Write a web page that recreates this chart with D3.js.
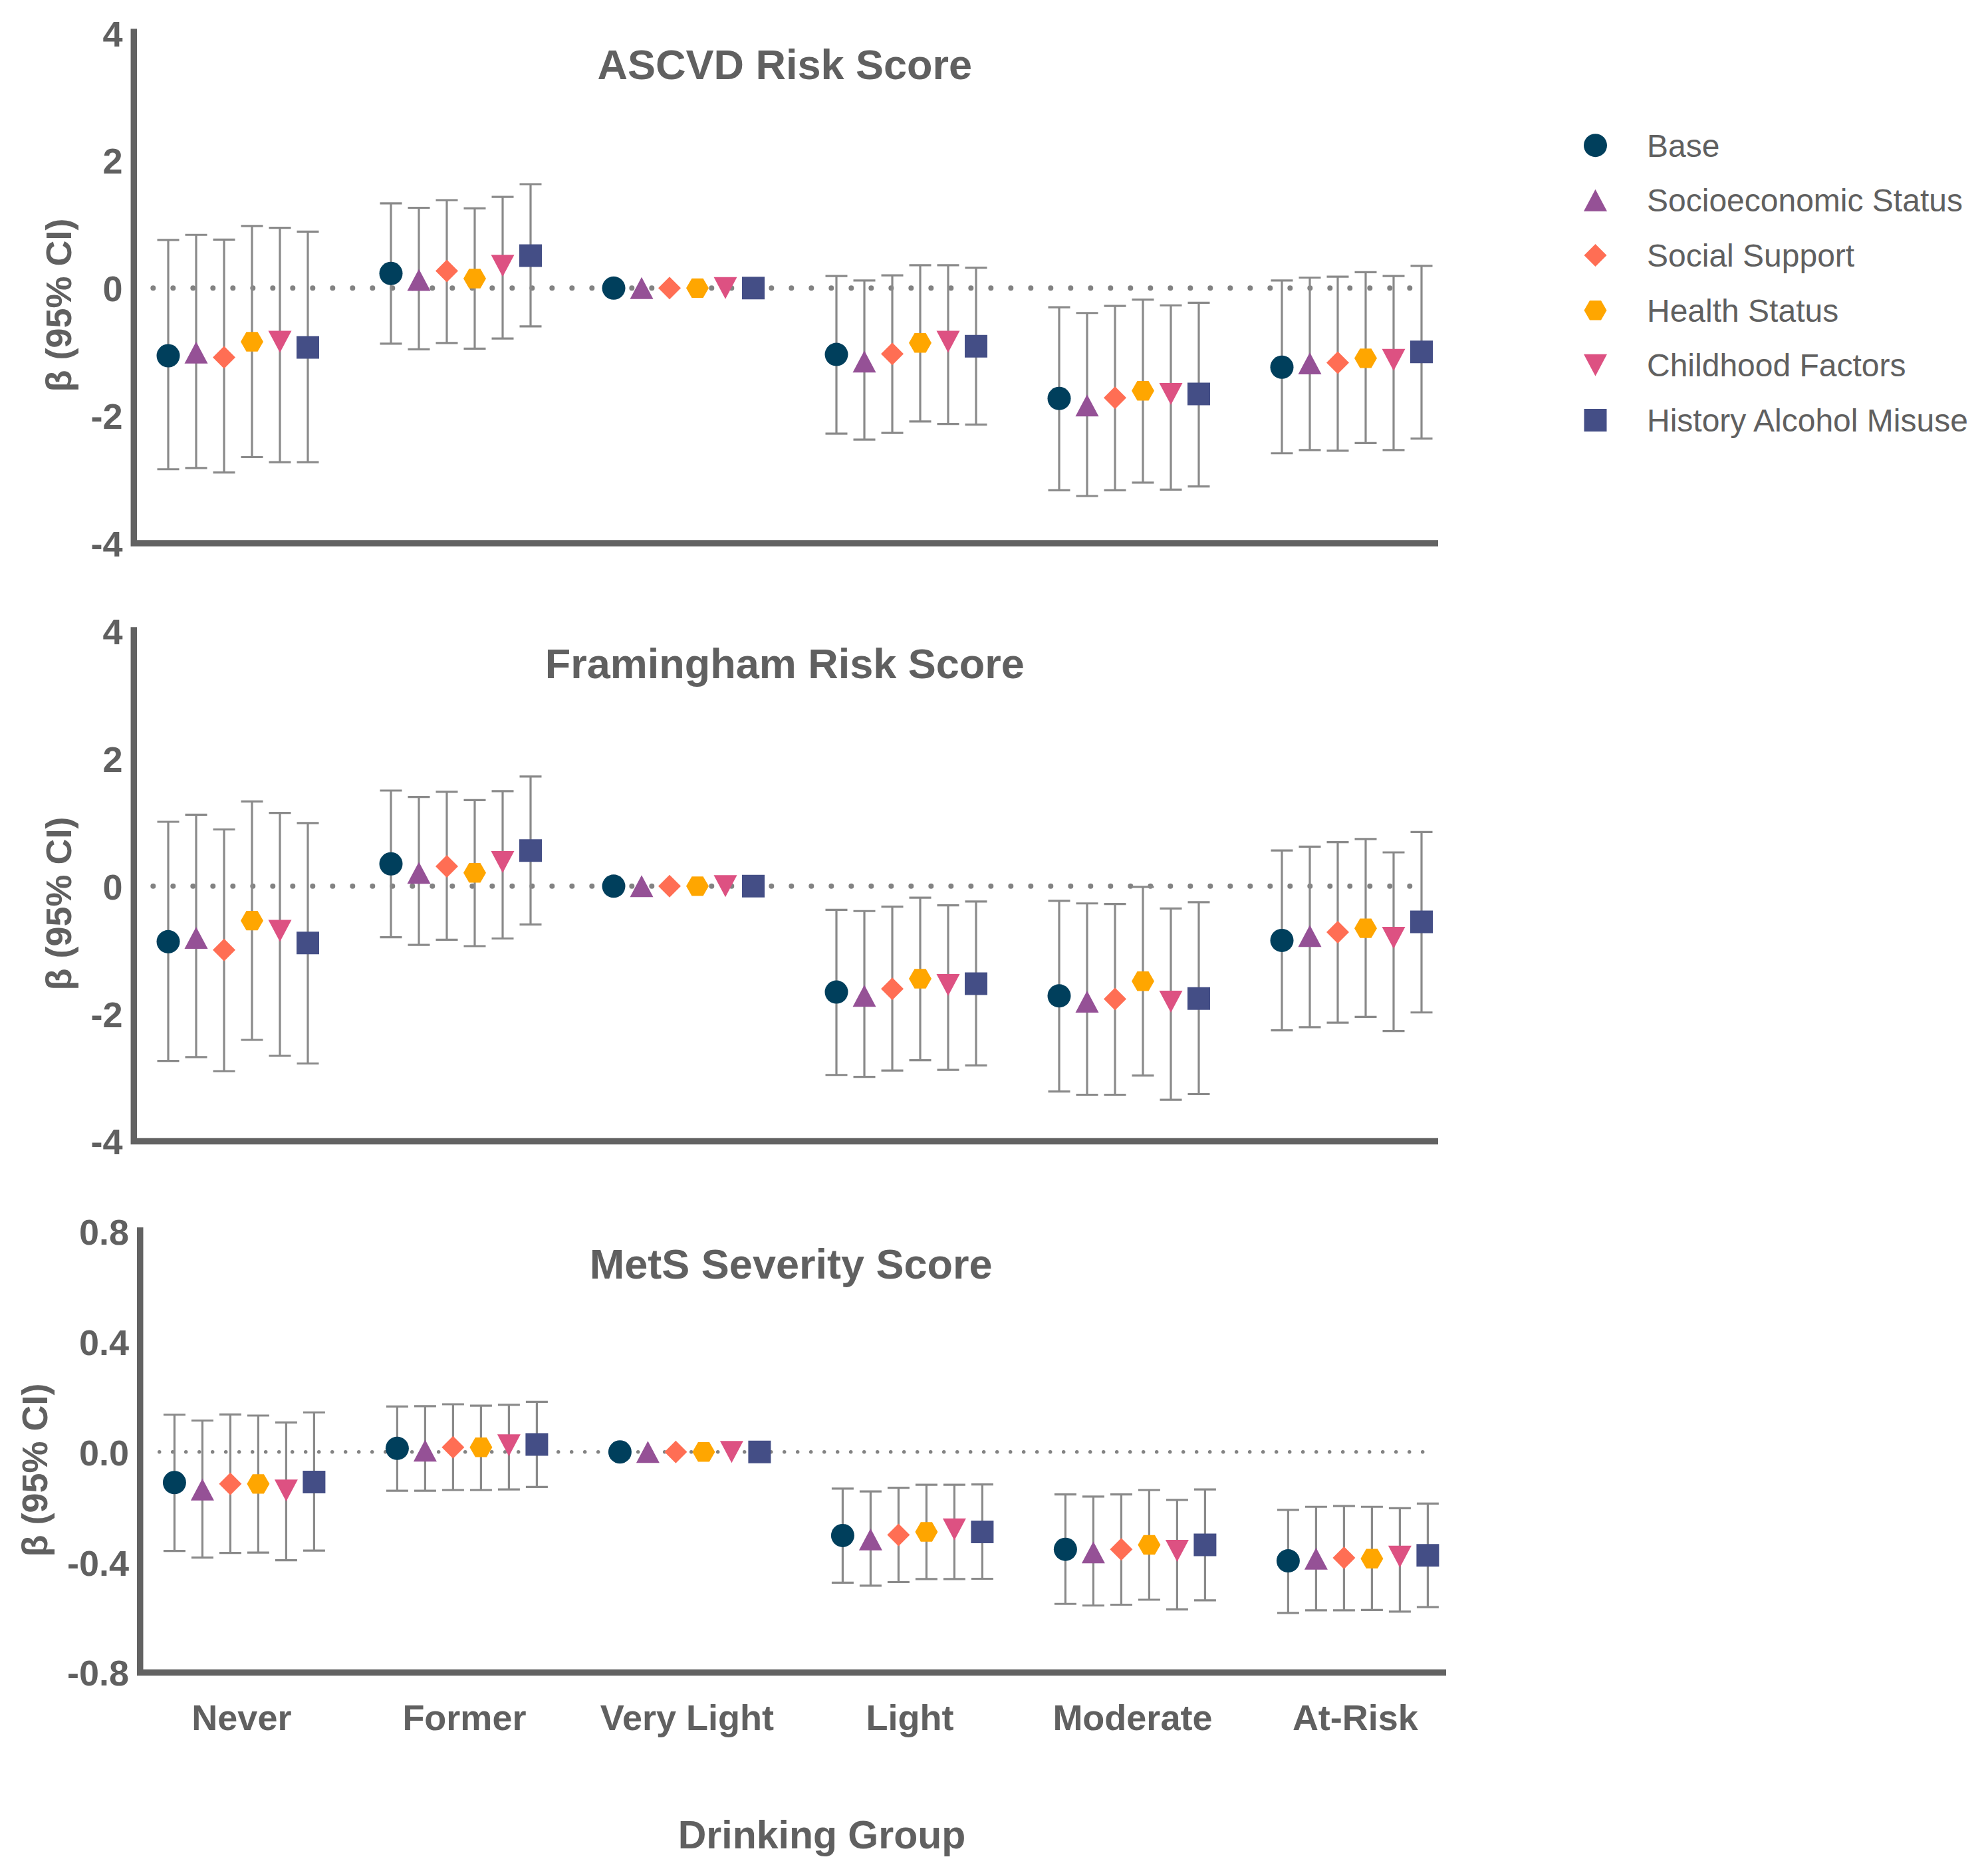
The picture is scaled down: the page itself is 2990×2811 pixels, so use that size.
<!DOCTYPE html>
<html>
<head>
<meta charset="utf-8">
<script src="https://cdn.jsdelivr.net/npm/d3@7"></script>
<style>
  html, body { margin: 0; padding: 0; background: #ffffff; }
  svg { display: block; }
</style>
</head>
<body>
<svg id="chart" width="2990" height="2811"></svg>
<script>
// ---------------- DATA ----------------
const categories = ["Never", "Former", "Very Light", "Light", "Moderate", "At-Risk"];
const seriesNames = ["Base", "Socioeconomic Status", "Social Support", "Health Status", "Childhood Factors", "History Alcohol Misuse"];
const seriesColors = ["#003f5c", "#955196", "#ff6e54", "#ffa600", "#dd5182", "#444e86"];
const seriesShapes = ["circle", "triangleUp", "diamond", "hexagon", "triangleDown", "square"];
const panelTitles = ["ASCVD Risk Score", "Framingham Risk Score", "MetS Severity Score"];
const xAxisTitle = "Drinking Group";
const yAxisTitle = "β (95% CI)";

const riskTicks = [-4, -2, 0, 2, 4];
const riskTickLabels = ["-4", "-2", "0", "2", "4"];
const metsTicks = [-0.8, -0.4, 0, 0.4, 0.8];
const metsTickLabels = ["-0.8", "-0.4", "0.0", "0.4", "0.8"];

// rows = series (same order as seriesNames), columns = categories
const ascvdEst = [
  [-1.06, 0.23, 0, -1.04, -1.73, -1.24],
  [-1.01, 0.13, 0, -1.15, -1.84, -1.18],
  [-1.085, 0.27, 0, -1.03, -1.72, -1.17],
  [-0.84, 0.15, 0, -0.86, -1.61, -1.10],
  [-0.84, 0.35, 0, -0.84, -1.66, -1.125],
  [-0.93, 0.51, 0, -0.91, -1.66, -1.00]
];
const ascvdLow = [
  [-2.84, -0.87, null, -2.28, -3.17, -2.59],
  [-2.82, -0.96, null, -2.375, -3.26, -2.54],
  [-2.89, -0.86, null, -2.27, -3.17, -2.55],
  [-2.65, -0.95, null, -2.09, -3.05, -2.43],
  [-2.73, -0.79, null, -2.13, -3.16, -2.54],
  [-2.73, -0.60, null, -2.14, -3.11, -2.36]
];
const ascvdHigh = [
  [0.755, 1.33, null, 0.19, -0.30, 0.12],
  [0.835, 1.26, null, 0.12, -0.39, 0.165],
  [0.76, 1.38, null, 0.20, -0.28, 0.18],
  [0.974, 1.25, null, 0.36, -0.18, 0.25],
  [0.946, 1.43, null, 0.36, -0.27, 0.19],
  [0.887, 1.63, null, 0.32, -0.23, 0.35]
];

const framEst = [
  [-0.87, 0.35, 0, -1.66, -1.72, -0.85],
  [-0.81, 0.21, 0, -1.72, -1.81, -0.78],
  [-1.00, 0.31, 0, -1.61, -1.77, -0.72],
  [-0.54, 0.21, 0, -1.45, -1.49, -0.66],
  [-0.70, 0.38, 0, -1.55, -1.81, -0.81],
  [-0.89, 0.56, 0, -1.53, -1.76, -0.56]
];
const framLow = [
  [-2.74, -0.80, null, -2.96, -3.22, -2.26],
  [-2.68, -0.92, null, -2.99, -3.27, -2.21],
  [-2.90, -0.84, null, -2.89, -3.27, -2.14],
  [-2.41, -0.94, null, -2.73, -2.97, -2.05],
  [-2.66, -0.82, null, -2.88, -3.35, -2.27],
  [-2.78, -0.60, null, -2.81, -3.26, -1.98]
];
const framHigh = [
  [1.01, 1.50, null, -0.37, -0.23, 0.56],
  [1.12, 1.40, null, -0.39, -0.27, 0.62],
  [0.89, 1.48, null, -0.32, -0.28, 0.69],
  [1.33, 1.35, null, -0.18, -0.01, 0.74],
  [1.15, 1.49, null, -0.30, -0.35, 0.53],
  [0.99, 1.72, null, -0.24, -0.25, 0.85]
];

const metsEst = [
  [-0.111, 0.013, 0, -0.303, -0.353, -0.395],
  [-0.136, 0.005, 0, -0.317, -0.364, -0.387],
  [-0.116, 0.017, 0, -0.301, -0.353, -0.384],
  [-0.116, 0.017, 0, -0.290, -0.337, -0.387],
  [-0.140, 0.024, 0, -0.281, -0.359, -0.380],
  [-0.109, 0.027, 0, -0.290, -0.337, -0.375]
];
const metsLow = [
  [-0.359, -0.141, null, -0.474, -0.551, -0.584],
  [-0.383, -0.141, null, -0.485, -0.557, -0.574],
  [-0.366, -0.138, null, -0.472, -0.554, -0.574],
  [-0.365, -0.138, null, -0.461, -0.536, -0.573],
  [-0.393, -0.136, null, -0.461, -0.571, -0.579],
  [-0.358, -0.127, null, -0.460, -0.538, -0.563]
];
const metsHigh = [
  [0.135, 0.165, null, -0.133, -0.154, -0.210],
  [0.114, 0.166, null, -0.143, -0.162, -0.199],
  [0.136, 0.173, null, -0.130, -0.154, -0.196],
  [0.132, 0.168, null, -0.119, -0.138, -0.199],
  [0.107, 0.171, null, -0.119, -0.174, -0.204],
  [0.1435, 0.182, null, -0.118, -0.136, -0.187]
];

// ---------------- LAYOUT ----------------
const FONT = "'Liberation Sans', Arial, Helvetica, sans-serif";
const TEXT = "#606060";
const AXIS = "#626262";
const BAR = "#8a8a8a";

const panels = [
  { title: panelTitles[0], est: ascvdEst, low: ascvdLow, high: ascvdHigh,
    domain: [-4, 4], ticks: riskTicks, tickLabels: riskTickLabels,
    axisX: 201.3, top: 43.3, yRange: [817, 49.7], axisEnd: 2163,
    titleY: 119, yLabelX: 93, yLabelY: 459, dot: 8, dotGap: 30 },
  { title: panelTitles[1], est: framEst, low: framLow, high: framHigh,
    domain: [-4, 4], ticks: riskTicks, tickLabels: riskTickLabels,
    axisX: 201.3, top: 943.3, yRange: [1716.5, 949.2], axisEnd: 2163,
    titleY: 1020, yLabelX: 93, yLabelY: 1359, dot: 8, dotGap: 30 },
  { title: panelTitles[2], est: metsEst, low: metsLow, high: metsHigh,
    domain: [-0.8, 0.8], ticks: metsTicks, tickLabels: metsTickLabels,
    axisX: 210.7, top: 1846, yRange: [2515.5, 1852], axisEnd: 2175,
    titleY: 1922.5, yLabelX: 57, yLabelY: 2211, dot: 5.5, dotGap: 20 }
];

const svg = d3.select("#chart");

// marker shapes
function shapePath(shape) {
  const line = d3.line();
  switch (shape) {
    case "circle": return d3.symbol(d3.symbolCircle, Math.PI * 17.5 * 17.5)();
    case "triangleUp": return line([[0, -16.5], [17.5, 16.5], [-17.5, 16.5]]) + "Z";
    case "triangleDown": return line([[0, 16.5], [17.5, -16.5], [-17.5, -16.5]]) + "Z";
    case "diamond": return line([[0, -17], [17, 0], [0, 17], [-17, 0]]) + "Z";
    case "hexagon": {
      const r = 17;
      const pts = d3.range(6).map(k => [r * Math.cos(k * Math.PI / 3), r * Math.sin(k * Math.PI / 3)]);
      return line(pts) + "Z";
    }
    case "square": return line([[-17, -17], [17, -17], [17, 17], [-17, 17]]) + "Z";
  }
}

const seriesOffset = d3.scalePoint().domain(seriesNames).range([-105, 105]);

let lastX = null;
panels.forEach((p, pi) => {
  const g = svg.append("g");
  const x = d3.scalePoint().domain(categories).range([p.axisX + 156.7, p.axisX + 1831.7]);
  const y = d3.scaleLinear().domain(p.domain).range(p.yRange);
  lastX = x;

  // title
  g.append("text")
    .attr("x", p.axisX + 979).attr("y", p.titleY)
    .attr("text-anchor", "middle")
    .attr("font-family", FONT).attr("font-weight", "bold").attr("font-size", 63)
    .attr("fill", TEXT)
    .text(p.title);

  // dotted zero line
  g.append("line")
    .attr("x1", p.axisX + 29).attr("x2", p.axisX + 1948)
    .attr("y1", y(0)).attr("y2", y(0))
    .attr("stroke", "#828282").attr("stroke-width", p.dot)
    .attr("stroke-linecap", "round")
    .attr("stroke-dasharray", `0,${p.dotGap}`);

  // y axis ticks via d3 axis
  const yAxis = d3.axisLeft(y)
    .tickValues(p.ticks)
    .tickFormat((d, i) => p.tickLabels[i])
    .tickSize(0)
    .tickPadding(12);
  const ag = g.append("g").attr("transform", `translate(${p.axisX - 4.7},0)`).call(yAxis);
  ag.select(".domain").remove();
  ag.selectAll("text")
    .attr("dy", "0.36em")
    .attr("font-family", FONT).attr("font-weight", "bold").attr("font-size", 54)
    .attr("fill", TEXT);

  // axis lines (L shape)
  const bottom = p.yRange[0];
  g.append("path")
    .attr("d", d3.line()([[p.axisX, p.top], [p.axisX, bottom], [p.axisEnd, bottom]]))
    .attr("fill", "none").attr("stroke", AXIS).attr("stroke-width", 9.5)
    .attr("stroke-linejoin", "miter").attr("stroke-linecap", "butt");

  // y axis label
  g.append("text")
    .attr("transform", `translate(${p.yLabelX},${p.yLabelY}) rotate(-90)`)
    .attr("y", 14)
    .attr("text-anchor", "middle")
    .attr("font-family", FONT).attr("font-weight", "bold").attr("font-size", 54)
    .attr("fill", TEXT)
    .text(yAxisTitle);

  // build records
  const recs = [];
  seriesNames.forEach((s, si) => {
    categories.forEach((c, ci) => {
      recs.push({ s, si, c, est: p.est[si][ci], low: p.low[si][ci], high: p.high[si][ci] });
    });
  });

  const cx = d => x(d.c) + seriesOffset(d.s);

  // error bars
  const eb = g.append("g").attr("stroke", BAR).attr("stroke-width", 3.2).attr("fill", "none");
  const withCI = recs.filter(d => d.low !== null && d.high !== null);
  eb.selectAll("line.v").data(withCI).join("line").attr("class", "v")
    .attr("x1", cx).attr("x2", cx)
    .attr("y1", d => y(d.low)).attr("y2", d => y(d.high));
  eb.selectAll("line.lo").data(withCI).join("line").attr("class", "lo")
    .attr("x1", d => cx(d) - 16.5).attr("x2", d => cx(d) + 16.5)
    .attr("y1", d => y(d.low)).attr("y2", d => y(d.low));
  eb.selectAll("line.hi").data(withCI).join("line").attr("class", "hi")
    .attr("x1", d => cx(d) - 16.5).attr("x2", d => cx(d) + 16.5)
    .attr("y1", d => y(d.high)).attr("y2", d => y(d.high));

  // markers
  g.append("g").selectAll("path").data(recs).join("path")
    .attr("d", d => shapePath(seriesShapes[d.si]))
    .attr("transform", d => `translate(${cx(d)},${y(d.est)})`)
    .attr("fill", d => seriesColors[d.si]);
});

// category labels (bottom panel)
svg.append("g").selectAll("text").data(categories).join("text")
  .attr("x", d => lastX(d) - 4).attr("y", 2602)
  .attr("text-anchor", "middle")
  .attr("font-family", FONT).attr("font-weight", "bold").attr("font-size", 54)
  .attr("fill", TEXT)
  .text(d => d);

// x axis title
svg.append("text")
  .attr("x", 1236).attr("y", 2780)
  .attr("text-anchor", "middle")
  .attr("font-family", FONT).attr("font-weight", "bold").attr("font-size", 59)
  .attr("fill", TEXT)
  .text(xAxisTitle);

// legend
const legendY = d3.scalePoint().domain(seriesNames).range([218.7, 632]);
const lg = svg.append("g");
lg.selectAll("path").data(seriesNames).join("path")
  .attr("d", (d, i) => shapePath(seriesShapes[i]))
  .attr("transform", d => `translate(2399.5,${legendY(d)})`)
  .attr("fill", (d, i) => seriesColors[i]);
lg.selectAll("text").data(seriesNames).join("text")
  .attr("x", 2477).attr("y", d => legendY(d) + 17)
  .attr("font-family", FONT).attr("font-size", 48)
  .attr("fill", TEXT)
  .text(d => d);
</script>
</body>
</html>
